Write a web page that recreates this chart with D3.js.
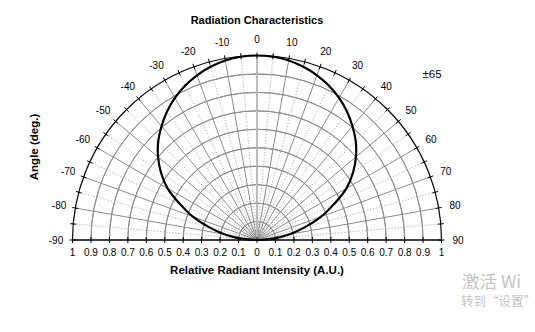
<!DOCTYPE html>
<html>
<head>
<meta charset="utf-8">
<script src="https://cdn.jsdelivr.net/npm/d3@7"></script>
<style>
  html, body { margin: 0; padding: 0; background: #fff; overflow: hidden; }
  svg { display: block; font-family: Arial, "Liberation Sans", sans-serif; }
</style>
</head>
<body>
<svg id="chart" width="535" height="332"></svg>
<script>
// Emission angle (deg) and relative radiant intensity
const angles = [-90, -85, -80, -75, -70, -65, -60, -55, -50, -45, -40, -35, -30, -25, -20, -15, -10, -5,
                0, 5, 10, 15, 20, 25, 30, 35, 40, 45, 50, 55, 60, 65, 70, 75, 80, 85, 90];
const intensity = [0.00, 0.09, 0.18, 0.27, 0.37, 0.46, 0.56, 0.635, 0.70, 0.757, 0.805, 0.85, 0.89, 0.923, 0.95, 0.972, 0.988, 0.997,
                   1.00, 0.997, 0.988, 0.972, 0.95, 0.923, 0.89, 0.85, 0.805, 0.757, 0.70, 0.635, 0.56, 0.46, 0.37, 0.27, 0.18, 0.09, 0.00];

// Axis ticks
const angleTicks = [-90, -80, -70, -60, -50, -40, -30, -20, -10, 0, 10, 20, 30, 40, 50, 60, 70, 80, 90];
const minorAngles = [-85, -75, -65, -55, -45, -35, -25, -15, -5, 5, 15, 25, 35, 45, 55, 65, 75, 85];
const intensityTicks = [0, 0.1, 0.2, 0.3, 0.4, 0.5, 0.6, 0.7, 0.8, 0.9, 1];
const halfAngleLabel = "\u00b165";

const svg = d3.select("#chart");
const cx = 257, cy = 240, R = 184.5;

const r = d3.scaleLinear().domain([0, 1]).range([0, R]);
const a = d3.scaleLinear().domain([-90, 90]).range([-Math.PI / 2, Math.PI / 2]);

const g = svg.append("g").attr("transform", `translate(${cx},${cy})`);

const pt = (deg, rad) => [rad * Math.sin(a(deg)), -rad * Math.cos(a(deg))];

// concentric intensity rings
const arc = d3.arc().startAngle(-Math.PI / 2).endAngle(Math.PI / 2);
g.selectAll("path.ring")
  .data(intensityTicks.filter(v => v > 0 && v < 1))
  .join("path")
  .attr("class", "ring")
  .attr("d", v => arc({ innerRadius: r(v), outerRadius: r(v) }))
  .attr("fill", "none")
  .attr("stroke", "#8c8c8c")
  .attr("stroke-width", 1);

// minor (dotted) radial lines
g.selectAll("line.minor")
  .data(minorAngles)
  .join("line")
  .attr("class", "minor")
  .attr("x1", 0).attr("y1", 0)
  .attr("x2", d => pt(d, R)[0]).attr("y2", d => pt(d, R)[1])
  .attr("stroke", "#a8a8a8")
  .attr("stroke-width", 0.9)
  .attr("stroke-dasharray", "1.2,1.8");

// major radial lines
g.selectAll("line.major")
  .data(angleTicks.filter(d => Math.abs(d) < 90 && d !== 0))
  .join("line")
  .attr("class", "major")
  .attr("x1", 0).attr("y1", 0)
  .attr("x2", d => pt(d, R)[0]).attr("y2", d => pt(d, R)[1])
  .attr("stroke", "#8c8c8c")
  .attr("stroke-width", 1);

// 0° line
g.append("line")
  .attr("x1", 0).attr("y1", 0)
  .attr("x2", 0).attr("y2", -R)
  .attr("stroke", "#b4b4b4")
  .attr("stroke-width", 1.8);

// outer boundary
g.append("path")
  .attr("d", arc({ innerRadius: R, outerRadius: R }))
  .attr("fill", "none")
  .attr("stroke", "#000")
  .attr("stroke-width", 1.2);

// ticks on outer boundary
g.selectAll("line.otick")
  .data(angleTicks.concat(minorAngles))
  .join("line")
  .attr("class", "otick")
  .attr("x1", d => pt(d, R - 3)[0]).attr("y1", d => pt(d, R - 3)[1])
  .attr("x2", d => pt(d, R + 3)[0]).attr("y2", d => pt(d, R + 3)[1])
  .attr("stroke", "#000")
  .attr("stroke-width", 1);

// baseline with intensity ticks
g.append("line")
  .attr("x1", -R).attr("x2", R).attr("y1", 0).attr("y2", 0)
  .attr("stroke", "#000").attr("stroke-width", 1.3);

const xTickPos = intensityTicks.flatMap(v => v === 0 ? [0] : [-r(v), r(v)]);
g.selectAll("line.xtick")
  .data(xTickPos)
  .join("line")
  .attr("class", "xtick")
  .attr("x1", d => d).attr("x2", d => d)
  .attr("y1", -3).attr("y2", 3)
  .attr("stroke", "#000").attr("stroke-width", 1);

// intensity labels
const xLabels = intensityTicks.flatMap(v => v === 0 ? [{ x: 0, t: "0" }] : [{ x: -r(v), t: String(v) }, { x: r(v), t: String(v) }]);
g.selectAll("text.xlab")
  .data(xLabels)
  .join("text")
  .attr("class", "xlab")
  .attr("x", d => d.x).attr("y", 16)
  .attr("text-anchor", "middle")
  .attr("font-size", 10)
  .attr("fill", "#000")
  .text(d => d.t);

// angle labels
g.selectAll("text.alab")
  .data(angleTicks)
  .join("text")
  .attr("class", "alab")
  .attr("x", d => pt(d, 201)[0])
  .attr("y", d => pt(d, 201)[1])
  .attr("dy", "0.35em")
  .attr("text-anchor", "middle")
  .attr("font-size", 10)
  .attr("fill", "#000")
  .text(d => d);

// radiation pattern
const pattern = angles.map((d, i) => [a(d), r(intensity[i])]);
g.append("path")
  .datum(pattern)
  .attr("d", d3.lineRadial().curve(d3.curveCatmullRom))
  .attr("fill", "none")
  .attr("stroke", "#000")
  .attr("stroke-width", 2.2);

// titles
svg.append("text")
  .attr("x", cx).attr("y", 24)
  .attr("text-anchor", "middle")
  .attr("font-size", 11).attr("font-weight", "bold")
  .text("Radiation Characteristics");

svg.append("text")
  .attr("x", cx).attr("y", 274)
  .attr("text-anchor", "middle")
  .attr("font-size", 11.5).attr("font-weight", "bold")
  .text("Relative Radiant Intensity (A.U.)");

svg.append("text")
  .attr("transform", "translate(38,147) rotate(-90)")
  .attr("text-anchor", "middle")
  .attr("font-size", 11.5).attr("font-weight", "bold")
  .text("Angle (deg.)");

svg.append("text")
  .attr("x", 432).attr("y", 78)
  .attr("text-anchor", "middle")
  .attr("font-size", 11.5)
  .text(halfAngleLabel);

// system overlay text at the lower right
svg.append("text")
  .attr("x", 462).attr("y", 288)
  .attr("font-family", "'Noto Sans CJK SC', sans-serif")
  .attr("font-size", 17.5).attr("fill", "#c4c4c4")
  .text("激活 Wi");
svg.append("text")
  .attr("x", 461).attr("y", 306)
  .attr("font-family", "'Noto Sans CJK SC', sans-serif")
  .attr("font-size", 12.5).attr("fill", "#c4c4c4")
  .text("转到“设置”");
</script>
</body>
</html>
